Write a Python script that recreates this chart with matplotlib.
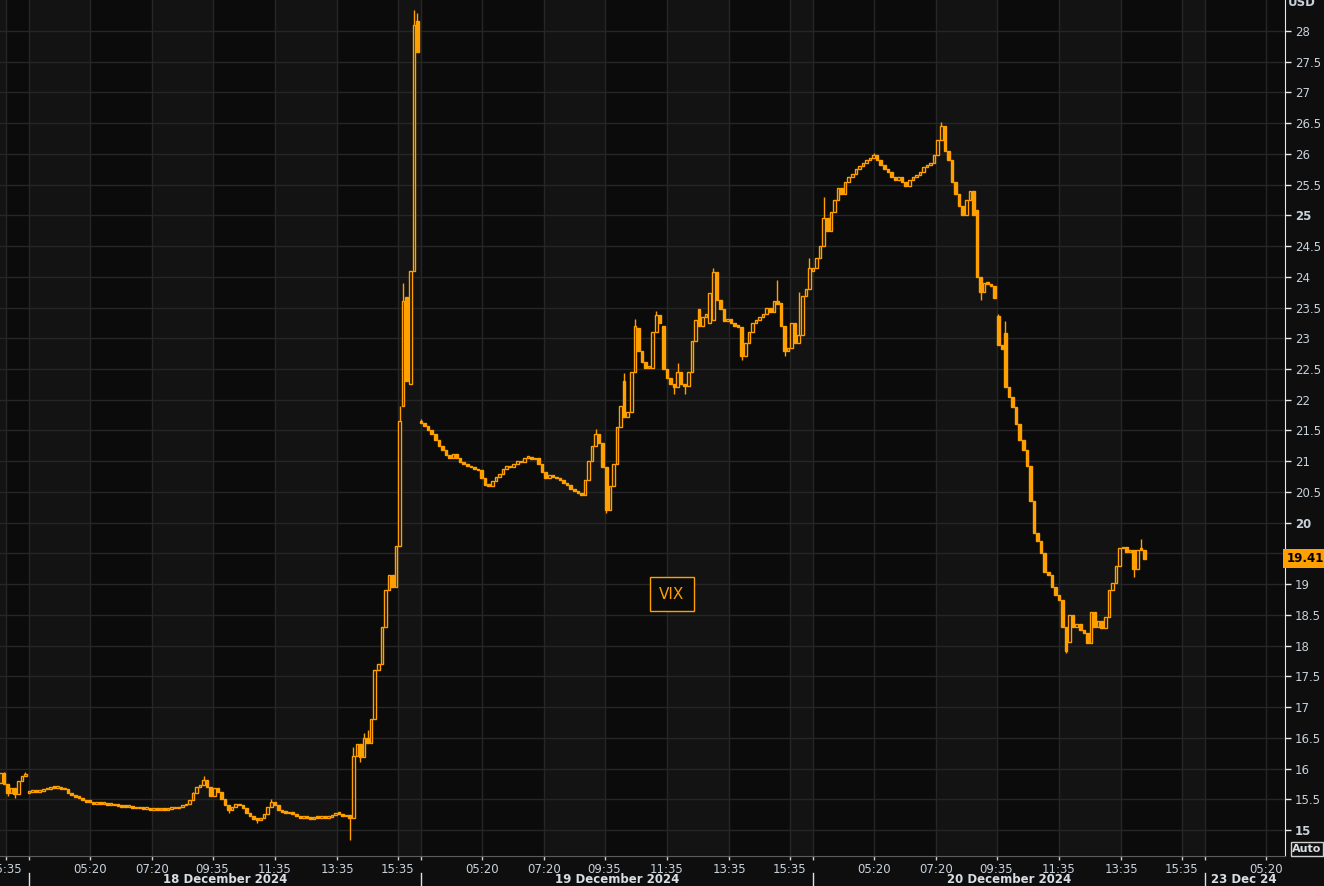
import numpy as np
import matplotlib
matplotlib.use("Agg")
import matplotlib.pyplot as plt
import matplotlib.transforms as mtransforms

# ---- data: VIX candles, 110 bars per session ----
BARS = 110

# 17 Dec (tail only, bars 102..109)
d17_start = 102
d17_open0 = 15.77
d17_close = [15.92, 15.75, 15.60, 15.68, 15.58, 15.80, 15.88, 15.89]
d17_open_fix = {}
d17_high = {103: 15.94, 109: 15.95}
d17_low = {104: 15.56, 106: 15.52}

# 18 Dec
d18_open0 = 15.60
d18_close = [
    15.62, 15.63, 15.62, 15.64, 15.66, 15.67, 15.69, 15.68, 15.69, 15.67,
    15.66, 15.60, 15.57, 15.54, 15.52, 15.48, 15.46, 15.45, 15.43, 15.44,
    15.42, 15.42, 15.41, 15.41, 15.40, 15.39, 15.38, 15.37, 15.37, 15.36,
    15.35, 15.35, 15.34, 15.34, 15.33, 15.34, 15.33, 15.34, 15.33, 15.34,
    15.35, 15.35, 15.37, 15.40, 15.42, 15.48, 15.60, 15.70, 15.73, 15.82,
    15.70, 15.55, 15.68, 15.62, 15.50, 15.40, 15.32, 15.38, 15.42, 15.40,
    15.36, 15.28, 15.22, 15.18, 15.17, 15.20, 15.26, 15.38, 15.45, 15.40,
    15.33, 15.30, 15.28, 15.27, 15.26, 15.22, 15.20, 15.22, 15.19, 15.18,
    15.21, 15.20, 15.22, 15.20, 15.21, 15.24, 15.27, 15.26, 15.22, 15.24,
    15.20, 16.20, 16.40, 16.18, 16.50, 16.42, 16.80, 17.60, 17.70, 18.30,
    18.90, 19.15, 18.95, 19.62, 21.66, 23.60, 22.30, 24.10, 28.10, 27.66,
]
d18_open_fix = {105: 21.90, 106: 23.67, 107: 22.26, 108: 24.10, 109: 28.16}
d18_high = {46: 15.62, 49: 15.88, 68: 15.50, 91: 16.35, 94: 16.58, 95: 16.62,
            104: 21.90, 105: 23.90, 108: 28.34, 109: 28.30}
d18_low = {56: 15.28, 64: 15.12, 90: 14.84, 93: 16.10}

# 19 Dec
d19_open0 = 21.65
d19_close = [
    21.62, 21.58, 21.50, 21.45, 21.35, 21.25, 21.18, 21.10, 21.05, 21.12,
    21.05, 20.98, 20.95, 20.92, 20.90, 20.88, 20.85, 20.72, 20.62, 20.60,
    20.68, 20.75, 20.80, 20.88, 20.92, 20.90, 20.95, 21.00, 20.98, 21.05,
    21.07, 21.03, 21.05, 20.95, 20.82, 20.72, 20.78, 20.75, 20.72, 20.70,
    20.65, 20.62, 20.55, 20.52, 20.48, 20.45, 20.70, 21.00, 21.25, 21.45,
    21.30, 20.90, 20.20, 20.60, 20.95, 21.55, 21.90, 21.72, 21.80, 22.45,
    23.20, 22.80, 22.62, 22.52, 22.52, 23.10, 23.38, 23.25, 22.50, 22.35,
    22.25, 22.20, 22.45, 22.25, 22.22, 22.45, 22.95, 23.30, 23.20, 23.35,
    23.40, 23.74, 24.08, 23.62, 23.48, 23.28, 23.32, 23.25, 23.20, 23.18,
    22.72, 22.92, 23.10, 23.25, 23.30, 23.35, 23.40, 23.50, 23.42, 23.60,
    23.55, 23.20, 22.80, 22.85, 23.25, 22.92, 23.05, 23.68, 23.80, 24.15,
]
d19_open_fix = {57: 22.30, 61: 23.17, 68: 23.20, 78: 23.48, 81: 23.25,
                82: 23.30, 101: 23.57}
d19_high = {0: 21.68, 49: 21.52, 57: 22.43, 60: 23.32, 66: 23.45, 72: 22.60,
            82: 24.14, 100: 23.95, 106: 23.75, 109: 24.30}
d19_low = {52: 20.15, 71: 22.10, 74: 22.10, 90: 22.65, 102: 22.72}

# 20 Dec
d20_open0 = 24.10
d20_close = [
    24.15, 24.30, 24.50, 24.95, 24.75, 25.05, 25.25, 25.45, 25.35, 25.55,
    25.62, 25.68, 25.75, 25.80, 25.86, 25.90, 25.94, 25.98, 25.90, 25.82,
    25.75, 25.70, 25.62, 25.58, 25.62, 25.55, 25.48, 25.58, 25.62, 25.66,
    25.70, 25.78, 25.82, 25.85, 25.98, 26.22, 26.45, 26.05, 25.90, 25.55,
    25.35, 25.15, 25.00, 25.25, 25.40, 25.00, 24.00, 23.75, 23.90, 23.88,
    23.85, 23.66, 22.89, 22.82, 22.20, 22.05, 21.88, 21.60, 21.35, 21.18,
    20.92, 20.35, 19.83, 19.70, 19.50, 19.20, 19.15, 18.95, 18.82, 18.75,
    18.30, 17.92, 18.50, 18.30, 18.35, 18.25, 18.20, 18.05, 18.55, 18.30,
    18.40, 18.28, 18.47, 18.90, 19.02, 19.30, 19.58, 19.60, 19.52, 19.55,
    19.25, 19.56, 19.55, 19.41,
]
d20_open_fix = {46: 25.08, 52: 23.36, 54: 23.09, 72: 18.06}
d20_high = {3: 25.30, 17: 26.02, 36: 26.52, 52: 23.40, 54: 23.28, 92: 19.73}
d20_low = {47: 23.62, 71: 17.88, 90: 19.12}

last_price = 19.41

# session ticks (bar position inside each day) and labels
tick_bars = [17, 34.5, 51.5, 69, 86.5, 103.5]
tick_labels = ["05:20", "07:20", "09:35", "11:35", "13:35", "15:35"]
day_names = {0: "18 December 2024", 1: "19 December 2024", 2: "20 December 2024", 3: "23 Dec 24"}
# background shade of each interval between grid lines (1 = lighter)
band_shade = {-1: [0, 0, 0, 0, 0, 1, 0], 0: [1, 0, 1, 0, 1, 0, 1],
              1: [0, 0, 1, 0, 1, 0, 1], 2: [0, 0, 1, 0, 1, 0, 1], 3: [0, 0, 0, 0, 0, 0, 0]}

ORANGE = "#ffa000"
TXT = "#c9d1da"
BG_DARK = "#0b0b0b"
BG_LIGHT = "#131313"
GRID = "#262626"
XLIM = (-0.074, 3.204)
YLIM = (14.577, 28.504)

fig = plt.figure(figsize=(13.24, 8.86), dpi=100, facecolor="#0e0e0e")
ax = fig.add_axes([0, 30 / 886, 1285 / 1324, 856 / 886])
ax.set_facecolor(BG_DARK)

# ---- background bands & grid ----
for d, shades in band_shade.items():
    edges = [d] + [d + b / BARS for b in tick_bars] + [d + 1]
    for i, s in enumerate(shades):
        if s:
            ax.axvspan(edges[i], edges[i + 1], color=BG_LIGHT, lw=0, zorder=0)
    for e in edges[:-1]:
        ax.axvline(e, color=GRID, lw=1, zorder=1)
for v in np.arange(15, 28.01, 0.5):
    ax.axhline(v, color=GRID, lw=1, zorder=1)


# ---- candles ----
def draw_day(day, start, open0, closes, open_fix, highs, lows):
    closes = np.array(closes)
    n = len(closes)
    bars = np.arange(start, start + n)
    opens = np.concatenate([[open0], closes[:-1]])
    for k, v in open_fix.items():
        opens[k - start] = v
    hi = np.maximum(opens, closes)
    lo = np.minimum(opens, closes)
    for k, v in highs.items():
        hi[k - start] = v
    for k, v in lows.items():
        lo[k - start] = v
    x = day + bars / BARS
    body_lo = np.minimum(opens, closes)
    body_h = np.maximum(np.abs(closes - opens), 0.03)
    up = closes >= opens
    ax.vlines(x, lo, hi, color=ORANGE, lw=1.0, zorder=3)
    ax.bar(x[up], body_h[up], bottom=body_lo[up], width=0.72 / BARS,
           facecolor=BG_DARK, edgecolor=ORANGE, linewidth=1.0, zorder=4)
    ax.bar(x[~up], body_h[~up], bottom=body_lo[~up], width=0.72 / BARS,
           facecolor=ORANGE, edgecolor=ORANGE, linewidth=1.0, zorder=4)


draw_day(-1, d17_start, d17_open0, d17_close, d17_open_fix, d17_high, d17_low)
draw_day(0, 0, d18_open0, d18_close, d18_open_fix, d18_high, d18_low)
draw_day(1, 0, d19_open0, d19_close, d19_open_fix, d19_high, d19_low)
draw_day(2, 0, d20_open0, d20_close, d20_open_fix, d20_high, d20_low)

# ---- axes styling ----
for s in ["left", "top"]:
    ax.spines[s].set_visible(False)
ax.spines["right"].set_color("#e8e8e8")
ax.spines["bottom"].set_color("#5c5c5c")

ax.yaxis.tick_right()
yt = np.arange(15, 28.01, 0.5)
ax.set_yticks(yt)
ax.set_yticklabels([f"{v:g}" for v in yt])
ax.tick_params(axis="y", colors=TXT, color="#e8e8e8", length=4, width=1, pad=3, labelsize=8.5)
for lab, v in zip(ax.get_yticklabels(), yt):
    if v % 5 == 0:
        lab.set_fontweight("bold")

xt, xl = [], []
for d in [-1, 0, 1, 2, 3]:
    xt.append(d)
    xl.append("")
    for b, lbl in zip(tick_bars, tick_labels):
        xt.append(d + b / BARS)
        xl.append(lbl)
ax.set_xticks(xt)
ax.set_xticklabels(xl)
ax.tick_params(axis="x", colors=TXT, color="#cfcfcf", length=3, width=1, pad=2, labelsize=8.5)

# limits last: set_xticks would widen the view otherwise
ax.set_xlim(*XLIM)
ax.set_ylim(*YLIM)

trans = mtransforms.blended_transform_factory(ax.transData, ax.transAxes)
for d, name in day_names.items():
    xc = d + 0.5 if d < 3 else 3.10
    ax.text(xc, -0.028, name, transform=trans, ha="center", va="center",
            color="#d9dee5", fontsize=8.5, fontweight="bold", clip_on=False)
    ax.plot([d, d], [-0.02, -0.036], transform=trans, color="#e0e0e0", lw=1, clip_on=False)

# last price tag
ytrans = mtransforms.blended_transform_factory(ax.transAxes, ax.transData)
ax.text(1.001, last_price, "19.41", transform=ytrans, ha="left", va="center",
        color="black", fontsize=8.5, fontweight="bold", clip_on=False, zorder=10,
        bbox=dict(boxstyle="square,pad=0.25", facecolor=ORANGE, edgecolor="none"))

# legend box
ax.text(0.523, 0.306, "VIX", transform=ax.transAxes, ha="center", va="center",
        color=ORANGE, fontsize=11, zorder=10,
        bbox=dict(boxstyle="square,pad=0.6", facecolor=BG_DARK, edgecolor=ORANGE, lw=1))

fig.text(1302 / 1324, 1 - 3 / 886, "USD", ha="center", va="center", color=TXT,
         fontsize=8.5, fontweight="bold")
fig.text(1307 / 1324, 1 - 849 / 886, "Auto", ha="center", va="center", color="#d9dee5",
         fontsize=8, fontweight="bold",
         bbox=dict(boxstyle="square,pad=0.15", facecolor="none", edgecolor="#d0d0d0", lw=1))

fig.savefig("out.png", dpi=100, facecolor=fig.get_facecolor())
